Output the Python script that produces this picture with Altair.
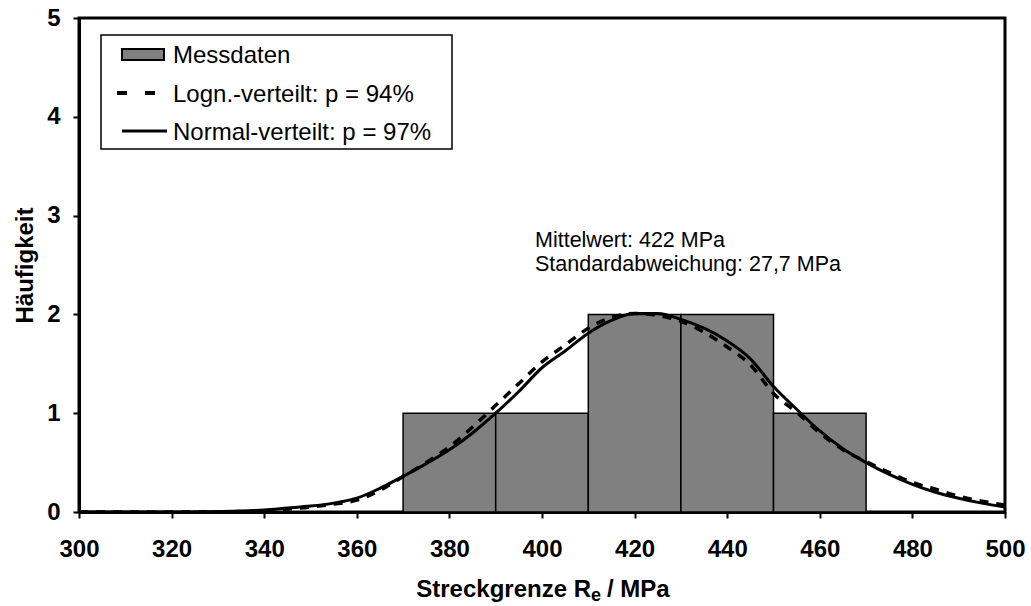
import altair as alt
import pandas as pd

# ---- data ----
bin_start = [370, 390, 410, 430, 450]
bin_end = [390, 410, 430, 450, 470]
counts = [1, 1, 2, 2, 1]

x_curve = [300, 310, 320, 330, 335, 340, 345, 350, 355, 360, 365, 370, 375, 380, 385,
           390, 395, 400, 405, 410, 415, 420, 425, 430, 435, 440, 445, 450, 455,
           460, 465, 470, 475, 480, 485, 490, 495, 500]
normal_vals = [0.0, 0.0, 0.0, 0.005, 0.01, 0.02, 0.04, 0.06, 0.09, 0.14, 0.24, 0.36, 0.49,
               0.63, 0.80, 1.00, 1.22, 1.46, 1.63, 1.81, 1.94, 2.01, 2.01, 1.95, 1.86,
               1.73, 1.55, 1.27, 1.04, 0.82, 0.64, 0.50, 0.38, 0.28, 0.20, 0.14, 0.09, 0.05]
logn_vals = [0.0, 0.0, 0.0, 0.0, 0.005, 0.01, 0.03, 0.05, 0.08, 0.12, 0.22, 0.36, 0.50,
             0.66, 0.86, 1.08, 1.30, 1.52, 1.69, 1.86, 1.97, 2.01, 1.99, 1.93, 1.82,
             1.67, 1.49, 1.20, 1.01, 0.80, 0.63, 0.51, 0.40, 0.30, 0.23, 0.16, 0.11, 0.07]

legend_labels = ["Messdaten", "Logn.-verteilt: p = 94%", "Normal-verteilt: p = 97%"]
annotation_lines = ["Mittelwert: 422 MPa", "Standardabweichung: 27,7 MPa"]
x_title_parts = ["Streckgrenze R", "e", "/ MPa"]
y_title = "Häufigkeit"

FONT = "Liberation Sans"
W, H = 926, 494

bars_df = pd.DataFrame({"start": bin_start, "end": bin_end, "count": counts})
norm_df = pd.DataFrame({"x": x_curve, "y": normal_vals})
logn_df = pd.DataFrame({"x": x_curve, "y": logn_vals})

xscale = alt.Scale(domain=[300, 500], nice=False, zero=False)
yscale = alt.Scale(domain=[0, 5], nice=False)

xaxis = alt.Axis(values=list(range(300, 501, 20)), title=None, labelPadding=19,
                 labelFontSize=24, labelFlush=False, format="d")
yaxis = alt.Axis(values=[0, 1, 2, 3, 4, 5], title=y_title, labelPadding=13,
                 titlePadding=9, labelFontSize=24, titleFontSize=24, format="d",
                 labelFlush=False)

bars = alt.Chart(bars_df).mark_rect(fill="#808080", stroke="black", strokeWidth=1.5).encode(
    x=alt.X("start:Q", scale=xscale, axis=xaxis),
    x2="end:Q",
    y=alt.Y("count:Q", scale=yscale, axis=yaxis),
    y2=alt.datum(0),
)

logn_line = alt.Chart(logn_df).mark_line(color="black", strokeWidth=3.5,
                                         strokeDash=[9, 8], interpolate="monotone").encode(
    x=alt.X("x:Q", scale=xscale), y=alt.Y("y:Q", scale=yscale))
norm_line = alt.Chart(norm_df).mark_line(color="black", strokeWidth=3,
                                         interpolate="monotone").encode(
    x=alt.X("x:Q", scale=xscale), y=alt.Y("y:Q", scale=yscale))

one = pd.DataFrame({"k": [0]})

# legend box
leg_box = alt.Chart(one).mark_rect(fill="white", stroke="black", strokeWidth=1.5).encode(
    x=alt.value(22), x2=alt.value(373), y=alt.value(17), y2=alt.value(131))
leg_sym_bar = alt.Chart(one).mark_rect(fill="#808080", stroke="black", strokeWidth=2).encode(
    x=alt.value(43), x2=alt.value(85), y=alt.value(31), y2=alt.value(42))
leg_sym_dash = alt.Chart(one).mark_rule(color="black", strokeWidth=4, strokeDash=[10, 18]).encode(
    x=alt.value(38), x2=alt.value(76), y=alt.value(75))
leg_sym_solid = alt.Chart(one).mark_rule(color="black", strokeWidth=3).encode(
    x=alt.value(43), x2=alt.value(88), y=alt.value(113))
leg_texts = []
for lab, yy in zip(legend_labels, [45, 84, 122]):
    leg_texts.append(
        alt.Chart(pd.DataFrame({"t": [lab]})).mark_text(
            align="left", baseline="alphabetic", font=FONT, fontSize=24, color="black").encode(
            x=alt.value(94), y=alt.value(yy), text="t:N"))

ann = []
for line, yy in zip(annotation_lines, [229, 253]):
    ann.append(
        alt.Chart(pd.DataFrame({"t": [line]})).mark_text(
            align="left", baseline="alphabetic", font=FONT, fontSize=21.5, color="black").encode(
            x=alt.value(456), y=alt.value(yy), text="t:N"))

xt1 = alt.Chart(pd.DataFrame({"t": [x_title_parts[0]]})).mark_text(
    align="right", baseline="alphabetic", font=FONT, fontSize=24, fontWeight="bold",
    color="black").encode(x=alt.value(512), y=alt.value(579), text="t:N")
xt2 = alt.Chart(pd.DataFrame({"t": [x_title_parts[1]]})).mark_text(
    align="left", baseline="alphabetic", font=FONT, fontSize=18, fontWeight="bold",
    color="black").encode(x=alt.value(512), y=alt.value(583), text="t:N")
xt3 = alt.Chart(pd.DataFrame({"t": [x_title_parts[2]]})).mark_text(
    align="left", baseline="alphabetic", font=FONT, fontSize=24, fontWeight="bold",
    color="black").encode(x=alt.value(528), y=alt.value(579), text="t:N")

chart = alt.layer(
    bars, logn_line, norm_line,
    leg_box, leg_sym_bar, leg_sym_dash, leg_sym_solid, *leg_texts,
    *ann, xt1, xt2, xt3,
).properties(
    width=W, height=H,
    autosize=alt.AutoSizeParams(type="none"),
    padding={"left": 79, "top": 18, "right": 26, "bottom": 94},
    background="white",
).configure_view(
    stroke="black", strokeWidth=3
).configure_axis(
    labelFont=FONT, labelFontWeight="bold", labelColor="black",
    titleFont=FONT, titleFontWeight="bold", titleColor="black",
    tickColor="black", tickWidth=2, tickSize=6,
    domainColor="black", domainWidth=3, grid=False,
)

chart.save("out.html", embed_options={"renderer": "svg", "actions": False})
